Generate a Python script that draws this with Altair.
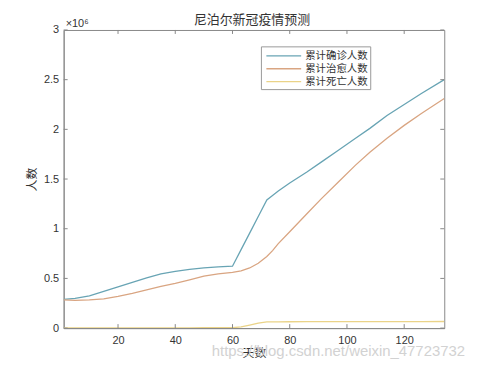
import altair as alt
import pandas as pd

# ---- data ----
days = [1, 5, 10, 15, 20, 25, 30, 35, 40, 45, 50, 55, 60, 63, 66, 69, 72, 74, 76, 80, 86, 91, 97, 103, 108, 114, 120, 126, 134]
confirmed = [290000, 300000, 325000, 370000, 415000, 460000, 505000, 545000, 570000, 590000, 607000, 617000, 623000,
             790000, 956000, 1123000, 1290000, 1335000, 1380000, 1460000, 1570000, 1670000, 1790000, 1910000,
             2010000, 2140000, 2250000, 2360000, 2500000]
cured = [283000, 280000, 283000, 295000, 320000, 350000, 385000, 420000, 450000, 485000, 523000, 545000, 560000,
         575000, 605000, 652000, 720000, 780000, 850000, 970000, 1150000, 1300000, 1470000, 1640000,
         1770000, 1910000, 2040000, 2160000, 2310000]
deaths = [1000, 1000, 1500, 1500, 2000, 2000, 2500, 2500, 3000, 3000, 3500, 3500, 4000,
          12000, 30000, 50000, 63000, 63200, 63500, 64000, 64500, 65000, 65000, 65500, 65500, 66000, 66000, 66000, 66500]

series_names = ["累计确诊人数", "累计治愈人数", "累计死亡人数"]
series_colors = ["#68a4b4", "#d9a582", "#ead388"]
x_ticks = [20, 40, 60, 80, 100, 120]
y_ticks = [0, 500000, 1000000, 1500000, 2000000, 2500000, 3000000]
title_text = "尼泊尔新冠疫情预测"
x_title = "天数"
y_title = "人数"

rows = []
for name, vals in zip(series_names, [confirmed, cured, deaths]):
    for d, v in zip(days, vals):
        rows.append({"day": d, "value": v, "series": name})
df = pd.DataFrame(rows)

W, H = 383, 300
CJK = "Noto Sans CJK SC"
LAT = "Liberation Sans"
TXT = "#333333"

xs = alt.Scale(domain=[1, 134], nice=False, zero=False)
ys = alt.Scale(domain=[0, 3000000], nice=False, zero=False)
x_axis = alt.Axis(values=x_ticks, title=x_title, titleFont=CJK, titleFontSize=12,
                  titleFontWeight="normal", titleColor=TXT, titlePadding=3,
                  labelFont=LAT, labelFontSize=11, labelColor=TXT,
                  labelPadding=6, tickSize=0, domainColor="#888", grid=False)
y_axis = alt.Axis(values=y_ticks, labelExpr="datum.value / 1000000", title=y_title,
                  titleFont=CJK, titleFontSize=12, titleFontWeight="normal", titleColor=TXT,
                  titlePadding=5, labelFont=LAT, labelFontSize=11, labelColor=TXT,
                  labelPadding=5, tickSize=0, domainColor="#888", grid=False)

lines = alt.Chart(df).mark_line(strokeWidth=1.3, clip=True).encode(
    x=alt.X("day:Q", scale=xs, axis=x_axis),
    y=alt.Y("value:Q", scale=ys, axis=y_axis),
    color=alt.Color("series:N", scale=alt.Scale(domain=series_names, range=series_colors),
                    legend=None),
)

xt = pd.DataFrame({"day": x_ticks})
yt = pd.DataFrame({"value": y_ticks})
tick_color = "#888"
xb = alt.Chart(xt).mark_rule(color=tick_color).encode(
    x=alt.X("day:Q", scale=xs, axis=x_axis), y=alt.value(H), y2=alt.value(H - 4))
xtp = alt.Chart(xt).mark_rule(color=tick_color).encode(
    x=alt.X("day:Q", scale=xs, axis=x_axis), y=alt.value(0), y2=alt.value(4))
yl = alt.Chart(yt).mark_rule(color=tick_color).encode(
    y=alt.Y("value:Q", scale=ys, axis=y_axis), x=alt.value(0), x2=alt.value(4))
yr = alt.Chart(yt).mark_rule(color=tick_color).encode(
    y=alt.Y("value:Q", scale=ys, axis=y_axis), x=alt.value(W), x2=alt.value(W - 4))

one = pd.DataFrame({"k": [0]})

title_mark = alt.Chart(one).mark_text(
    align="center", baseline="bottom", font=CJK, fontSize=13, color=TXT,
    text=title_text).encode(x=alt.value(W / 2 - 2), y=alt.value(-3))

exp_text = alt.Chart(one).mark_text(
    align="left", baseline="bottom", font=LAT, fontSize=11, color=TXT,
    text="×10⁶").encode(x=alt.value(2), y=alt.value(-1))

wm = alt.Chart(one).mark_text(
    align="left", baseline="bottom", font=LAT, fontSize=15, color="#d2d2d2",
    text="https://blog.csdn.net/weixin_47723732").encode(x=alt.value(149), y=alt.value(331))

# ---- hand-built legend box (top right, like the reference) ----
LX, LY, LW, LH = 199, 17, 110, 43
legend_box = alt.Chart(one).mark_rect(fill="white", stroke="#999", strokeWidth=1).encode(
    x=alt.value(LX), x2=alt.value(LX + LW), y=alt.value(LY), y2=alt.value(LY + LH))
legend_layers = [legend_box]
for i, (name, col) in enumerate(zip(series_names, series_colors)):
    yy = LY + 9 + 13 * i
    legend_layers.append(alt.Chart(one).mark_rule(color=col, strokeWidth=1.3).encode(
        x=alt.value(LX + 5), x2=alt.value(LX + 40), y=alt.value(yy)))
    legend_layers.append(alt.Chart(one).mark_text(
        align="left", baseline="middle", font=CJK, fontSize=10.5, color=TXT, text=name).encode(
        x=alt.value(LX + 44), y=alt.value(yy)))

chart = alt.layer(lines, xb, xtp, yl, yr, title_mark, exp_text, wm, *legend_layers).properties(
    width=W, height=H,
    autosize=alt.AutoSizeParams(type="none"),
    padding={"left": 56, "top": 21, "right": 42, "bottom": 33},
).configure_view(stroke="#888", strokeWidth=1)

chart.save("out.html", embed_options={"renderer": "svg", "actions": False})
